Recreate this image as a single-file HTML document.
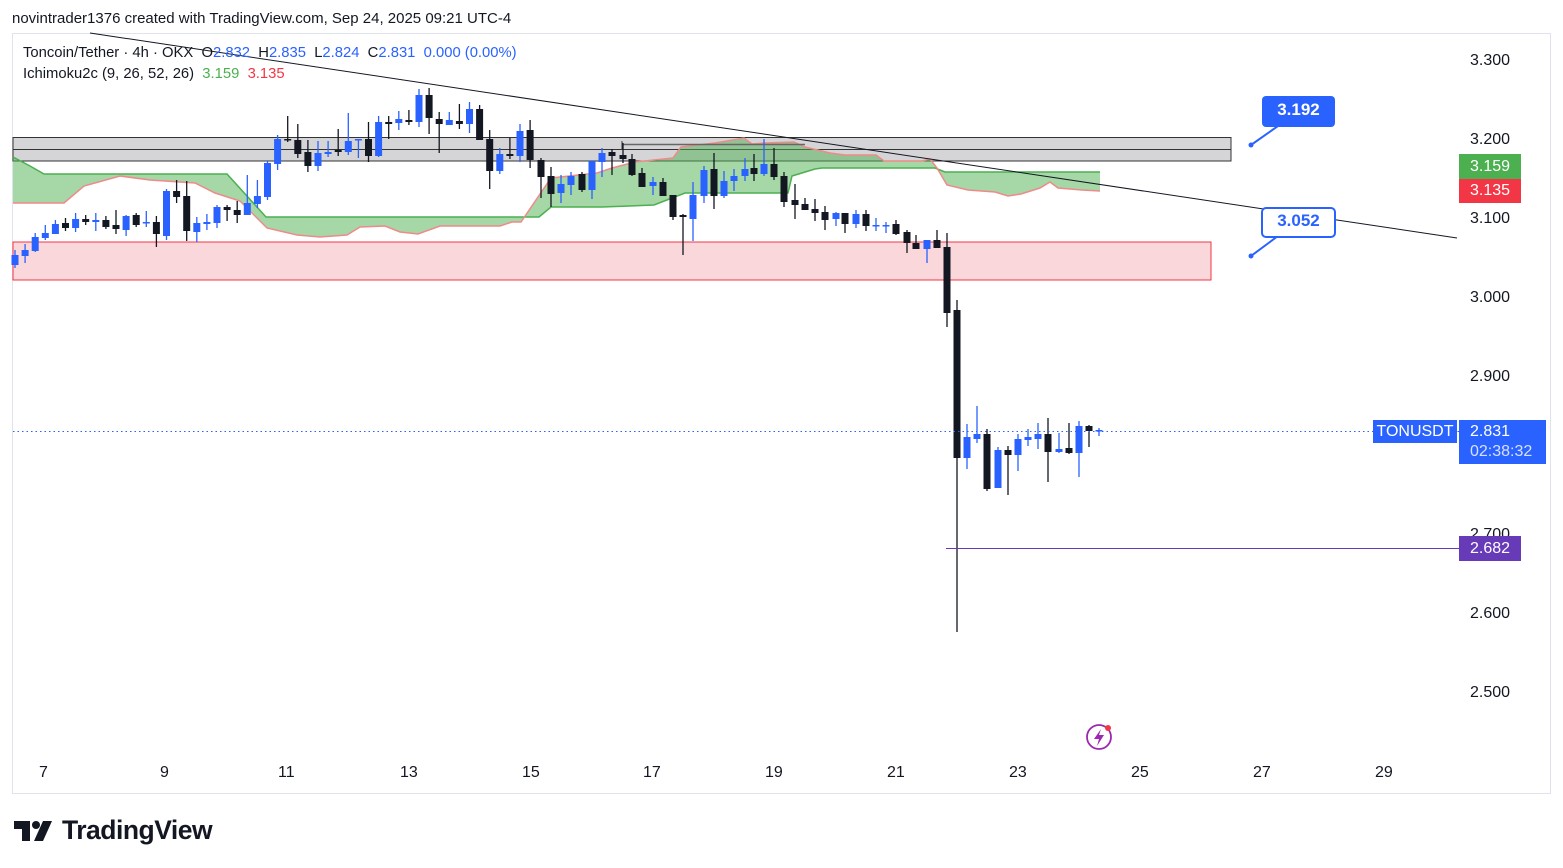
<!DOCTYPE html>
<html><head><meta charset="utf-8"><style>
body{margin:0;width:1563px;height:868px;background:#fff;overflow:hidden;font-family:"Liberation Sans",sans-serif;position:relative}
.t{position:absolute;white-space:nowrap}
</style></head><body>
<div class="t" style="left:12px;top:10px;font-size:15px;color:#131722">novintrader1376 created with TradingView.com, Sep 24, 2025 09:21 UTC-4</div>
<div style="position:absolute;left:12px;top:33px;width:1537px;height:759px;border:1px solid #e0e3eb"></div>
<svg id="s" width="1563" height="868" style="position:absolute;left:0;top:0">
<rect x="13" y="242" width="1198" height="38" fill="#f9d7da" stroke="#f23645" stroke-width="1"/>
<rect x="13" y="137.5" width="1218" height="23.5" fill="#d5d5d8" stroke="#333" stroke-width="1"/>
<line x1="13" y1="149.5" x2="1231" y2="149.5" stroke="#333"/>
<g id="cloud"></g>
<line x1="622" y1="144.5" x2="805" y2="144.5" stroke="#666" stroke-width="1.5"/>
<line x1="622" y1="141" x2="622" y2="150" stroke="#333"/>
<g id="c"></g>
<line x1="90" y1="33" x2="1457" y2="238" stroke="#131722" stroke-width="1"/>
<line x1="13" y1="431.5" x2="1459" y2="431.5" stroke="#2962ff" stroke-dasharray="1.5,3"/>
<line x1="946" y1="548.5" x2="1459" y2="548.5" stroke="#673ab7"/>
<path d="M1251 145 L1278 126" stroke="#2962ff" stroke-width="2"/><circle cx="1251" cy="145" r="2.5" fill="#2962ff"/>
<rect x="1262" y="96" width="73" height="31" rx="4" fill="#2962ff"/>
<path d="M1251 256 L1278 236" stroke="#2962ff" stroke-width="2"/><circle cx="1251" cy="256" r="2.5" fill="#2962ff"/>
<rect x="1262" y="208" width="73" height="29" rx="4" fill="#fff" stroke="#2962ff" stroke-width="2"/>
<circle cx="1099" cy="737" r="12" fill="none" stroke="#9c27b0" stroke-width="1.8"/>
<path d="M1101 729 L1094 739 L1099 739 L1097 746 L1104 735 L1099 735 Z" fill="#9c27b0"/>
<circle cx="1108" cy="728" r="3" fill="#f23645"/>
</svg>
<div class="t" style="left:1262px;top:100px;width:73px;text-align:center;color:#fff;font-size:17px;font-weight:bold">3.192</div>
<div class="t" style="left:1262px;top:211px;width:73px;text-align:center;color:#2962ff;font-size:17px;font-weight:bold">3.052</div>
<div class="t" style="left:23px;top:45px;font-size:14.8px;color:#131722">Toncoin/Tether · 4h · OKX &nbsp;O<span style="color:#2962ff">2.832</span> &nbsp;H<span style="color:#2962ff">2.835</span> &nbsp;L<span style="color:#2962ff">2.824</span> &nbsp;C<span style="color:#2962ff">2.831</span> &nbsp;<span style="color:#2962ff">0.000 (0.00%)</span></div>
<div class="t" style="left:23px;top:66px;font-size:14.8px;color:#131722">Ichimoku2c (9, 26, 52, 26) &nbsp;<span style="color:#4caf50">3.159</span> &nbsp;<span style="color:#f23645">3.135</span></div>
<div class="t" style="left:1470px;top:52px;font-size:16px;color:#131722">3.300</div>
<div class="t" style="left:1470px;top:131px;font-size:16px;color:#131722">3.200</div>
<div class="t" style="left:1470px;top:210px;font-size:16px;color:#131722">3.100</div>
<div class="t" style="left:1470px;top:289px;font-size:16px;color:#131722">3.000</div>
<div class="t" style="left:1470px;top:368px;font-size:16px;color:#131722">2.900</div>
<div class="t" style="left:1470px;top:526px;font-size:16px;color:#131722">2.700</div>
<div class="t" style="left:1470px;top:605px;font-size:16px;color:#131722">2.600</div>
<div class="t" style="left:1470px;top:684px;font-size:16px;color:#131722">2.500</div>
<div class="t" style="left:1459px;top:154px;width:62px;height:25px;background:#4caf50;color:#fff;font-size:16px;line-height:25px;text-align:center">3.159</div>
<div class="t" style="left:1459px;top:179px;width:62px;height:24px;background:#f23645;color:#fff;font-size:16px;line-height:24px;text-align:center">3.135</div>
<div class="t" style="left:1373px;top:420px;width:84px;height:23px;background:#2962ff;color:#fff;font-size:16px;line-height:23px;text-align:center">TONUSDT</div>
<div class="t" style="left:1459px;top:420px;width:87px;height:44px;background:#2962ff;color:#fff;font-size:16px;line-height:20px;padding-left:11px;box-sizing:border-box;padding-top:2px">2.831<br><span style="color:#d6e0ff">02:38:32</span></div>
<div class="t" style="left:1459px;top:536px;width:62px;height:25px;background:#673ab7;color:#fff;font-size:16px;line-height:25px;text-align:center">2.682</div>
<div class="t" style="left:39px;top:764px;font-size:16px;color:#131722">7</div>
<div class="t" style="left:160px;top:764px;font-size:16px;color:#131722">9</div>
<div class="t" style="left:278px;top:764px;font-size:16px;color:#131722">11</div>
<div class="t" style="left:400px;top:764px;font-size:16px;color:#131722">13</div>
<div class="t" style="left:522px;top:764px;font-size:16px;color:#131722">15</div>
<div class="t" style="left:643px;top:764px;font-size:16px;color:#131722">17</div>
<div class="t" style="left:765px;top:764px;font-size:16px;color:#131722">19</div>
<div class="t" style="left:887px;top:764px;font-size:16px;color:#131722">21</div>
<div class="t" style="left:1009px;top:764px;font-size:16px;color:#131722">23</div>
<div class="t" style="left:1131px;top:764px;font-size:16px;color:#131722">25</div>
<div class="t" style="left:1253px;top:764px;font-size:16px;color:#131722">27</div>
<div class="t" style="left:1375px;top:764px;font-size:16px;color:#131722">29</div>
<svg width="48" height="24" style="position:absolute;left:14px;top:819px"><path d="M0 2 H16 V22 H8 V10 H0 Z" fill="#131722"/><circle cx="22" cy="6" r="4" fill="#131722"/><path d="M29 2 H38 L29 22 H20 Z" fill="#131722"/></svg>
<div class="t" style="left:62px;top:815px;font-size:26.5px;font-weight:bold;color:#131722;letter-spacing:-0.5px">TradingView</div>
<script>
var A=[[255,265,250,268,'b'],[250,256,244,263,'b'],[237,251,233,252,'b'],[233,238,225,240,'b'],[224,234,220,234,'b'],[223,228,218,231,'k'],[219,228,213,232,'b'],[219,222,215,225,'k'],[220,222,213,231,'b'],[220,227,216,229,'k'],[225,229,210,234,'k'],[216,230,215,236,'b'],[215,225,213,227,'k'],[222,223,211,227,'b'],[222,234,216,247,'k'],[191,236,189,240,'b'],[191,197,180,203,'k'],[196,231,181,241,'k'],[223,232,217,242,'b'],[222,224,214,230,'b'],[207,223,205,228,'b'],[207,210,205,221,'k'],[210,215,201,223,'k'],[203,215,175,215,'b'],[196,204,180,208,'b'],[163,197,161,200,'b'],[139,164,135,170,'b'],[139,140,116,142,'k'],[140,154,124,158,'k'],[152,166,140,172,'k'],[153,166,141,171,'b'],[152,154,141,157,'b'],[150,152,129,156,'k'],[141,152,113,155,'b'],[139,139,139,158,'b'],[139,156,122,162,'k'],[122,156,116,157,'b'],[122,124,116,139,'k'],[119,123,111,130,'b'],[120,122,110,125,'k'],[95,122,89,127,'b'],[95,118,88,134,'k'],[119,124,112,153,'k'],[120,125,112,125,'b'],[121,124,104,129,'k'],[109,124,102,133,'b'],[109,140,105,140,'k'],[139,171,130,189,'k'],[154,171,148,174,'b'],[154,156,138,159,'k'],[131,156,124,162,'b'],[130,160,120,168,'k']];
var B=[[541,160,177,158,198,'k'],[551,176,194,167,207,'k'],[561,184,193,175,203,'b'],[571,176,185,172,195,'b'],[582,174,190,172,192,'k'],[592,161,190,161,199,'b'],[602,153,162,148,177,'b'],[612,152,156,149,175,'k'],[623,155,159,143,163,'k'],[632,159,175,154,176,'k'],[642,173,187,168,187,'k'],[653,182,186,177,195,'b'],[663,182,196,178,196,'k'],[673,195,217,195,220,'k'],[683,215,217,214,255,'k'],[693,195,219,182,241,'b'],[704,170,196,166,203,'b'],[714,169,196,153,209,'k'],[724,181,196,171,198,'b'],[734,176,181,169,191,'b'],[745,169,176,158,181,'b'],[754,168,174,154,181,'k'],[764,164,174,139,176,'b'],[774,164,177,148,180,'k'],[784,176,202,172,207,'k'],[795,200,205,184,219,'k'],[805,204,210,198,210,'k'],[815,209,213,199,221,'k'],[825,212,220,206,230,'k'],[836,213,219,212,226,'b'],[845,213,224,213,233,'k'],[856,214,224,210,228,'b'],[866,214,226,210,231,'k'],[876,225,226,218,231,'b'],[886,225,226,222,233,'b'],[896,224,234,220,235,'k'],[907,232,243,230,253,'k'],[916,243,249,235,249,'k'],[927,240,249,240,263,'b'],[937,240,248,230,248,'k'],[947,247,313,233,327,'k'],[957,310,458,300,632,'k'],[967,437,458,424,469,'b'],[977,434,439,406,443,'b'],[987,434,489,429,491,'k'],[998,450,488,447,488,'b'],[1008,450,455,446,495,'k'],[1018,439,455,434,471,'b'],[1028,437,440,429,446,'b'],[1038,434,439,423,449,'b'],[1048,434,452,418,482,'k'],[1059,449,452,433,453,'b'],[1069,448,453,423,454,'k'],[1079,426,453,421,477,'b'],[1089,426,431,425,447,'k'],[1099,430,431,428,436,'b']];
var all=A.map(function(a,i){return [15+i*10.1].concat(a)}).concat(B);
var h='';all.forEach(function(c){var x=c[0],col=c[5]=='b'?'#2962ff':'#131722';h+='<line x1="'+x+'" x2="'+x+'" y1="'+c[3]+'" y2="'+c[4]+'" stroke="'+col+'" stroke-width="1.3"/>';h+='<rect x="'+(x-3.5)+'" y="'+c[1]+'" width="7" height="'+Math.max(1.5,c[2]-c[1])+'" fill="'+col+'"/>';});
document.getElementById('c').innerHTML=h;
var G=[[13,157],[30,166],[44,174],[227,174],[266,217],[521,217],[539,217],[551,207],[602,207],[654,205],[685,193],[788,193],[792,176],[815,169],[822,168],[935,168],[945,172],[1100,172]];
var R=[[13,203],[64,203],[84,186],[120,176],[150,180],[195,183],[215,193],[240,201],[267,228],[297,235],[320,237],[347,235],[360,227],[385,226],[400,232],[418,234],[440,226],[500,226],[512,222],[521,222],[551,178],[597,173],[612,168],[635,162],[673,158],[681,147],[715,143],[744,138],[752,144],[765,143],[794,142],[805,147],[830,153],[845,155],[876,155],[884,161],[922,161],[930,159],[937,168],[947,185],[968,190],[995,192],[1008,196],[1021,194],[1040,188],[1050,182],[1058,188],[1082,190],[1100,191]];
function p(a){return a.map(function(q){return q[0]+','+q[1]}).join(' ')}
var poly=p(G)+' '+p(R.slice().reverse());
document.getElementById('cloud').innerHTML='<polygon points="'+poly+'" fill="rgba(76,175,80,0.5)"/><polyline points="'+p(G)+'" fill="none" stroke="#4caf50" stroke-width="1.5"/><polyline points="'+p(R)+'" fill="none" stroke="#ef8a8a" stroke-width="1.5"/>';
</script>
</body></html>
